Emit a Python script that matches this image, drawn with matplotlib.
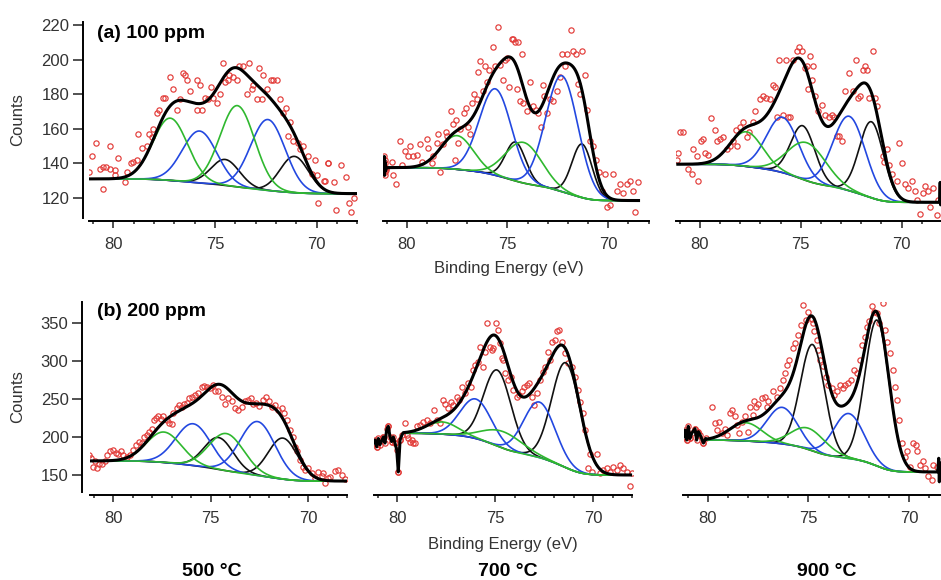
import numpy as np
import matplotlib.pyplot as plt
from matplotlib.ticker import MultipleLocator

plt.rcParams['font.family'] = ['Liberation Sans', 'DejaVu Sans']

# ---------------- data (binding energy in eV, counts) ----------------
# component order in every panel: green, blue, black, green, blue, black
comp_colors = ['#2fb82f', '#2348e0', '#111111', '#2fb82f', '#2348e0', '#111111']

# (a) 100 ppm, 500 C
pts_a500 = [(81.18, 135), (81.07, 144), (80.85, 152), (80.66, 137), (80.49, 138), (80.36, 138),
            (80.16, 137), (80.49, 125), (80.16, 150), (79.92, 136), (79.75, 143), (79.92, 133),
            (79.43, 129), (79.34, 135), (79.15, 140), (79.02, 141), (78.85, 142), (78.77, 157),
            (78.61, 149), (78.36, 150), (78.25, 157), (78.11, 155), (78.03, 160), (77.87, 169),
            (77.74, 171), (77.57, 178), (77.46, 178), (77.21, 190), (77.08, 183), (76.89, 171),
            (76.72, 177), (76.59, 192), (76.48, 191), (76.39, 188), (76.23, 182), (75.90, 188),
            (75.90, 171), (75.74, 185), (75.66, 171), (75.49, 178), (75.33, 177), (75.20, 184),
            (75.08, 178), (74.92, 175), (74.75, 180), (74.62, 198), (74.49, 187), (74.34, 188),
            (74.30, 191), (74.10, 190), (73.93, 188), (73.80, 196), (73.61, 196), (73.44, 180),
            (73.31, 198), (73.20, 183), (73.11, 185), (72.95, 177), (72.82, 195), (72.70, 177),
            (72.62, 191), (72.46, 183), (72.26, 188), (72.13, 188), (71.97, 188), (71.80, 177),
            (71.64, 169), (71.51, 172), (71.31, 164), (71.39, 156), (71.15, 153), (70.90, 152),
            (70.82, 148), (70.66, 150), (70.41, 144), (70.25, 134), (70.08, 142), (70.00, 133),
            (69.92, 117), (69.59, 130), (69.43, 140), (69.65, 130), (69.46, 140), (69.16, 129),
            (69.06, 113), (68.82, 139), (68.57, 132), (68.42, 117), (68.33, 112), (68.18, 120)]
pos_a500 = [77.2, 75.76, 74.5, 73.9, 72.4, 71.1]
amp_a500 = [36, 30, 15, 47, 41, 21]
sig_a500 = [0.85, 0.85, 0.7, 0.85, 0.85, 0.7]
bg_a500 = (131, 122.5)
span_a500 = (81.2, 68.0)

# (a) 100 ppm, 700 C
pts_a700 = [(80.74, 141), (80.66, 133), (80.53, 128), (80.33, 153), (80.25, 139), (80.08, 147),
            (79.92, 144), (79.83, 150), (79.67, 144), (79.50, 145), (79.34, 151), (79.26, 141),
            (79.01, 154), (78.93, 149), (78.76, 140), (78.68, 144), (78.51, 152), (78.43, 157),
            (78.35, 135), (78.18, 151), (78.05, 158), (77.98, 156), (77.82, 170), (77.69, 163),
            (77.55, 165), (77.60, 142), (77.44, 152), (77.36, 160), (77.16, 169), (77.06, 172),
            (76.94, 161), (76.86, 157), (76.78, 175), (76.66, 180), (76.53, 177), (76.45, 193),
            (76.36, 199), (76.23, 182), (76.12, 196), (76.03, 187), (75.90, 194), (75.74, 207),
            (75.62, 196), (75.45, 219), (75.37, 197), (75.24, 188), (75.12, 200), (75.04, 201),
            (74.91, 184), (74.79, 212), (74.71, 212), (74.63, 210), (74.55, 183), (74.46, 210),
            (74.38, 176), (74.30, 203), (74.21, 175), (74.05, 170), (73.88, 187), (73.72, 173),
            (73.59, 171), (73.47, 169), (73.36, 161), (73.26, 185), (73.19, 179), (73.06, 169),
            (72.89, 177), (72.73, 176), (72.56, 182), (72.40, 190), (72.31, 203), (72.15, 196),
            (72.03, 203), (71.87, 217), (71.74, 205), (71.60, 203), (71.49, 186), (71.32, 205),
            (71.40, 180), (71.16, 191), (71.07, 171), (70.91, 153), (70.78, 150), (70.61, 142),
            (70.45, 135), (70.33, 124), (70.17, 134), (70.08, 115), (69.92, 116), (69.75, 134),
            (69.59, 124), (69.42, 128), (69.26, 123), (69.09, 128), (68.93, 130), (68.76, 124),
            (68.68, 112), (68.51, 129)]
pos_a700 = [77.5, 75.6, 74.6, 74.2, 72.3, 71.3]
amp_a700 = [19.5, 50, 22.5, 23.5, 67, 31]
sig_a700 = [0.8, 0.8, 0.5, 0.9, 0.8, 0.5]
bg_a700 = (137.5, 118.5)
span_a700 = (81.0, 68.5)
edge_a700_x = [81.12, 81.11, 81.10, 81.09, 81.08, 81.06, 81.04, 81.02]
edge_a700_y = [137, 144, 133, 142, 135, 140, 136, 137.5]

# (a) 100 ppm, 900 C
pts_a900 = [(81.07, 146), (80.99, 158), (80.86, 158), (81.16, 142), (80.58, 137), (80.41, 134),
            (80.08, 130), (80.33, 148), (80.17, 144), (79.97, 153), (79.83, 154), (79.75, 146),
            (79.59, 145), (79.47, 166), (79.26, 159), (79.14, 153), (79.01, 154), (78.84, 155),
            (78.68, 148), (78.51, 150), (78.35, 153), (78.21, 159), (78.15, 150), (78.02, 161),
            (77.85, 164), (77.69, 155), (77.55, 158), (77.39, 164), (77.27, 170), (77.02, 177),
            (76.89, 179), (76.73, 178), (76.53, 177), (76.40, 185), (76.28, 184), (76.20, 167),
            (76.07, 200), (75.90, 168), (75.74, 200), (75.62, 167), (75.54, 167), (75.37, 200),
            (75.21, 205), (75.07, 207), (74.96, 205), (74.79, 195), (74.68, 196), (74.55, 202),
            (74.41, 196), (74.63, 183), (74.46, 188), (74.30, 179), (74.13, 170), (73.97, 174),
            (73.80, 168), (73.59, 167), (73.47, 168), (73.36, 167), (73.22, 156), (73.09, 156),
            (72.98, 153), (72.81, 182), (72.60, 192), (72.43, 182), (72.26, 200), (72.15, 178),
            (72.07, 179), (71.93, 194), (71.82, 196), (71.70, 194), (71.60, 178), (71.44, 205),
            (71.32, 178), (71.21, 173), (70.94, 144), (70.88, 141), (70.74, 148), (70.61, 139),
            (70.50, 134), (70.25, 130), (70.12, 152), (70.00, 140), (69.83, 128), (69.67, 126),
            (69.50, 130), (69.34, 124), (69.22, 119), (69.09, 111), (68.96, 123), (68.84, 127),
            (68.68, 124), (68.60, 115), (68.43, 126), (68.26, 110), (68.18, 119)]
pos_a900 = [77.7, 75.9, 74.9, 74.7, 72.6, 71.5]
amp_a900 = [20, 32, 31, 22, 43, 44]
sig_a900 = [0.8, 0.8, 0.6, 0.95, 0.8, 0.6]
bg_a900 = (139.5, 117.5)
span_a900 = (81.1, 68.15)
edge_a900_x = [68.12, 68.09, 68.07, 68.05, 68.03, 68.01]
edge_a900_y = [118, 129, 116, 126, 119, 122]

# (b) 200 ppm, 500 C
pts_b500 = [(81.23, 176), (81.16, 172), (81.03, 161), (80.94, 168), (80.85, 159), (80.72, 165),
            (80.60, 164), (80.43, 168), (80.31, 176), (80.17, 181), (80.00, 183), (79.86, 179),
            (79.74, 178), (79.62, 181), (79.49, 176), (79.32, 174), (79.15, 176), (78.97, 183),
            (78.84, 190), (78.67, 194), (78.55, 192), (78.43, 200), (78.29, 203), (78.15, 206),
            (78.03, 210), (77.91, 222), (77.81, 225), (77.69, 227), (77.57, 224), (77.44, 227),
            (77.26, 222), (77.13, 218), (77.01, 217), (76.92, 231), (76.75, 238), (76.62, 242),
            (76.50, 240), (76.38, 244), (76.24, 245), (76.10, 251), (75.98, 253), (75.81, 255),
            (75.64, 258), (75.47, 266), (75.35, 267), (75.21, 266), (75.04, 264), (74.91, 269),
            (74.79, 260), (74.62, 260), (74.44, 253), (74.27, 244), (74.10, 251), (73.93, 247),
            (73.76, 238), (73.59, 236), (73.42, 240), (73.25, 247), (73.08, 249), (72.96, 251),
            (72.82, 244), (72.68, 245), (72.51, 241), (72.34, 249), (72.17, 253), (72.00, 247),
            (71.88, 240), (71.71, 242), (71.54, 236), (71.37, 238), (71.25, 231), (71.11, 222),
            (70.94, 209), (70.80, 200), (70.68, 187), (70.56, 181), (70.43, 170), (70.29, 161),
            (70.17, 157), (70.00, 159), (69.83, 152), (69.66, 146), (69.49, 154), (69.32, 148),
            (69.15, 139), (68.97, 146), (69.23, 153), (68.87, 147), (68.62, 155), (68.46, 157),
            (68.26, 150), (68.10, 145)]
pos_b500 = [77.4, 75.9, 74.6, 74.2, 72.6, 71.3]
amp_b500 = [40, 55, 42, 49, 71, 54]
sig_b500 = [0.9, 0.9, 0.75, 0.9, 0.9, 0.75]
bg_b500 = (168.5, 142)
span_b500 = (81.2, 68.0)

# (b) 200 ppm, 700 C
pts_b700 = [(79.61, 218), (79.44, 198), (79.27, 196), (79.10, 192), (79.01, 214), (78.84, 216),
            (78.67, 220), (78.50, 222), (78.33, 218), (78.13, 236), (77.96, 222), (77.82, 218),
            (77.69, 249), (77.57, 244), (77.40, 238), (77.28, 246), (77.14, 242), (76.97, 253),
            (76.84, 248), (76.72, 266), (76.55, 258), (76.38, 271), (76.26, 266), (76.16, 288),
            (76.04, 295), (75.87, 299), (75.78, 319), (75.65, 292), (75.53, 312), (75.44, 350),
            (75.27, 319), (75.19, 314), (75.10, 317), (74.97, 350), (74.85, 341), (74.76, 323),
            (74.68, 304), (74.59, 301), (74.49, 284), (74.34, 275), (74.22, 279), (74.08, 262),
            (73.91, 253), (73.78, 255), (73.66, 260), (73.54, 266), (73.40, 268), (73.27, 271),
            (73.15, 253), (73.03, 242), (72.89, 258), (72.72, 275), (72.59, 286), (72.47, 292),
            (72.30, 312), (72.21, 301), (72.13, 325), (71.96, 328), (71.84, 339), (71.73, 341),
            (71.62, 325), (71.45, 310), (71.28, 297), (71.11, 292), (70.94, 279), (70.77, 262),
            (70.68, 246), (70.54, 231), (70.43, 209), (70.17, 178), (69.83, 178), (70.26, 159),
            (70.09, 154), (69.66, 152), (69.49, 157), (69.32, 159), (69.15, 154), (68.98, 161),
            (68.81, 157), (68.64, 163), (68.47, 159), (68.30, 154), (68.13, 135), (68.04, 152),
            (79.49, 203), (79.35, 194), (79.18, 192), (81.22, 192), (81.05, 187), (80.71, 200),
            (80.46, 214), (80.29, 194), (80.12, 192), (79.95, 154), (79.86, 196)]
pos_b700 = [77.7, 76.0, 74.9, 74.6, 72.75, 71.4]
amp_b700 = [16, 52, 100, 22, 73, 138]
sig_b700 = [0.8, 0.8, 0.7, 1.0, 0.8, 0.72]
bg_b700 = (205, 150)
span_b700 = (79.69, 68.1)
edge_b700_x = [81.22, 81.14, 81.05, 80.97, 80.88, 80.71, 80.63, 80.54, 80.46, 80.37, 80.29,
               80.20, 80.12, 80.03, 79.95, 79.86, 79.76]
edge_b700_y = [192, 196, 187, 198, 190, 200, 192, 210, 214, 200, 194, 200, 192, 183, 154, 196, 203]

# (b) 200 ppm, 900 C
pts_b900 = [(79.80, 239), (79.64, 218), (79.52, 209), (79.42, 220), (79.31, 205), (79.14, 211),
            (79.02, 203), (78.89, 231), (78.81, 236), (78.64, 227), (78.53, 216), (78.43, 205),
            (78.31, 220), (78.15, 227), (77.98, 207), (77.90, 239), (77.77, 229), (77.70, 247),
            (77.60, 240), (77.49, 244), (77.32, 251), (77.16, 253), (77.07, 240), (76.99, 247),
            (76.78, 260), (76.58, 253), (76.41, 264), (76.28, 275), (76.17, 284), (76.05, 295),
            (75.95, 301), (75.79, 317), (75.67, 323), (75.50, 334), (75.39, 347), (75.26, 374),
            (75.12, 354), (75.01, 365), (74.84, 355), (74.76, 350), (74.73, 339), (74.60, 328),
            (74.51, 315), (74.43, 301), (74.30, 293), (74.13, 279), (74.02, 268), (73.85, 264),
            (73.74, 255), (73.57, 260), (73.44, 268), (73.31, 264), (73.19, 268), (73.02, 271),
            (72.91, 275), (72.74, 288), (72.61, 284), (72.45, 301), (72.36, 321), (72.20, 332),
            (72.08, 345), (71.98, 352), (71.87, 372), (71.75, 365), (71.62, 363), (71.49, 350),
            (71.32, 376), (71.21, 341), (71.09, 325), (70.96, 310), (70.83, 288), (70.71, 266),
            (70.63, 249), (70.50, 222), (70.38, 192), (70.21, 174), (70.10, 181), (69.97, 161),
            (69.80, 192), (69.67, 190), (69.60, 181), (69.47, 163), (69.34, 168), (69.22, 159),
            (69.06, 148), (68.89, 143), (68.81, 163), (68.64, 161), (81.21, 200), (81.04, 196),
            (80.88, 198), (80.63, 211), (80.46, 207), (80.21, 192)]
pos_b900 = [78.1, 76.3, 74.8, 75.0, 73.0, 71.6]
amp_b900 = [24, 48, 140, 28, 59, 192]
sig_b900 = [0.8, 0.75, 0.6, 0.85, 0.75, 0.6]
bg_b900 = (196, 154)
span_b900 = (80.05, 68.6)
edge_b900_lx = [81.21, 81.12, 81.04, 80.96, 80.88, 80.79, 80.63, 80.55, 80.46, 80.38, 80.21, 80.10]
edge_b900_ly = [200, 209, 196, 214, 198, 205, 211, 196, 207, 203, 192, 198]
edge_b900_rx = [68.57, 68.54, 68.51, 68.48, 68.45, 68.42]
edge_b900_ry = [160, 172, 141, 166, 150, 158]

panel_labels = ['(a) 100 ppm', '(b) 200 ppm']
temp_labels = ['500 \u00b0C', '700 \u00b0C', '900 \u00b0C']

# ---------------- layout (pixels of a 941 x 580 figure) ----------------
W, H = 941, 580
fig = plt.figure(figsize=(W / 100, H / 100), dpi=100)


def add_ax(x0, x1, y0, y1):
    return fig.add_axes([x0 / W, 1 - y1 / H, (x1 - x0) / W, (y1 - y0) / H])


def draw(ax, pts, pos, amp, sig, bg, span, left=None, right=None):
    pts = np.array(pts)
    ax.plot(pts[:, 0], pts[:, 1], 'o', ms=3.8, mfc='none', mec='#e23b38', mew=0.85, zorder=1)
    if left is not None:
        ax.plot(left[0], left[1], 'o', ms=3.8, mfc='none', mec='#e23b38', mew=0.85, zorder=1)

    x = np.linspace(span[0], span[1], 700)
    peaks = np.array([a * np.exp(-(x - p) ** 2 / (2 * s ** 2)) for p, a, s in zip(pos, amp, sig)])
    total = peaks.sum(axis=0)
    # Shirley-like background: step follows the integrated peak area
    frac = np.cumsum(total[::-1])[::-1]
    frac = frac / frac[0]
    base = bg[1] + (bg[0] - bg[1]) * frac

    for k in [2, 5, 1, 4, 0, 3]:
        ax.plot(x, base + peaks[k], color=comp_colors[k], lw=1.2, zorder=2)

    fx, fy = list(x), list(base + total)
    if left is not None:
        fx = list(left[0]) + fx
        fy = list(left[1]) + fy
    if right is not None:
        fx = fx + list(right[0])
        fy = fy + list(right[1])
    ax.plot(fx, fy, color='black', lw=2.2, zorder=3, solid_joinstyle='round')


def style(ax, first, ylim, ystep, yoff):
    ax.set_xlim(81.2, 68.0)
    ax.set_ylim(*ylim)
    ax.spines['top'].set_visible(False)
    ax.spines['right'].set_visible(False)
    ax.spines['bottom'].set_position(('outward', 2))
    ax.spines['bottom'].set_linewidth(1.4)
    ax.xaxis.set_major_locator(MultipleLocator(5))
    ax.xaxis.set_minor_locator(MultipleLocator(1))
    ax.tick_params(axis='x', which='major', length=5, width=1.2, pad=7, labelsize=12, colors='#333333')
    ax.tick_params(axis='x', which='minor', length=2.5, width=1.2, colors='#333333')
    ax.patch.set_alpha(0)
    if first:
        ax.spines['left'].set_position(('outward', yoff))
        ax.spines['left'].set_linewidth(1.4)
        ax.yaxis.set_major_locator(MultipleLocator(ystep))
        ax.tick_params(axis='y', length=7.5, width=1.2, pad=2, labelsize=12, colors='#333333')
        ax.set_ylabel('Counts', fontsize=12, color='#333333')
    else:
        ax.spines['left'].set_visible(False)
        ax.tick_params(axis='y', left=False, labelleft=False)


top_ylim = (108.4, 221.7)
bot_ylim = (127.6, 377.6)

ax = add_ax(88.9, 357.4, 22, 218)
draw(ax, pts_a500, pos_a500, amp_a500, sig_a500, bg_a500, span_a500)
style(ax, True, top_ylim, 20, 4.5)
ax.yaxis.set_label_coords(-0.238, 0.5)

ax = add_ax(382.5, 648.6, 22, 218)
draw(ax, pts_a700, pos_a700, amp_a700, sig_a700, bg_a700, span_a700,
     left=(edge_a700_x, edge_a700_y))
style(ax, False, top_ylim, 20, 0)

ax = add_ax(675.8, 942.0, 22, 218)
draw(ax, pts_a900, pos_a900, amp_a900, sig_a900, bg_a900, span_a900,
     right=(edge_a900_x, edge_a900_y))
style(ax, False, top_ylim, 20, 0)

ax = add_ax(89.9, 347.3, 302, 492)
draw(ax, pts_b500, pos_b500, amp_b500, sig_b500, bg_b500, span_b500)
style(ax, True, bot_ylim, 50, 5.9)
ax.yaxis.set_label_coords(-0.252, 0.5)

ax = add_ax(373.8, 632.5, 302, 492)
draw(ax, pts_b700, pos_b700, amp_b700, sig_b700, bg_b700, span_b700,
     left=(edge_b700_x, edge_b700_y))
style(ax, False, bot_ylim, 50, 0)

ax = add_ax(683.5, 949.6, 302, 492)
draw(ax, pts_b900, pos_b900, amp_b900, sig_b900, bg_b900, span_b900,
     left=(edge_b900_lx, edge_b900_ly), right=(edge_b900_rx, edge_b900_ry))
style(ax, False, bot_ylim, 50, 0)

# texts
fig.text(97 / W, 1 - 34 / H, panel_labels[0], fontsize=14, fontweight='bold', va='center', ha='left')
fig.text(97 / W, 1 - 312 / H, panel_labels[1], fontsize=14, fontweight='bold', va='center', ha='left')
fig.text(509 / W, 1 - 268 / H, 'Binding Energy (eV)', fontsize=12, color='#333333', ha='center', va='center')
fig.text(503 / W, 1 - 545 / H, 'Binding Energy (eV)', fontsize=12, color='#333333', ha='center', va='center')
for xc, lab in zip([212, 508, 827], temp_labels):
    fig.text(xc / W, 1 - 571 / H, lab, fontsize=14, fontweight='bold', ha='center', va='center')

fig.savefig('out.png', dpi=100)
